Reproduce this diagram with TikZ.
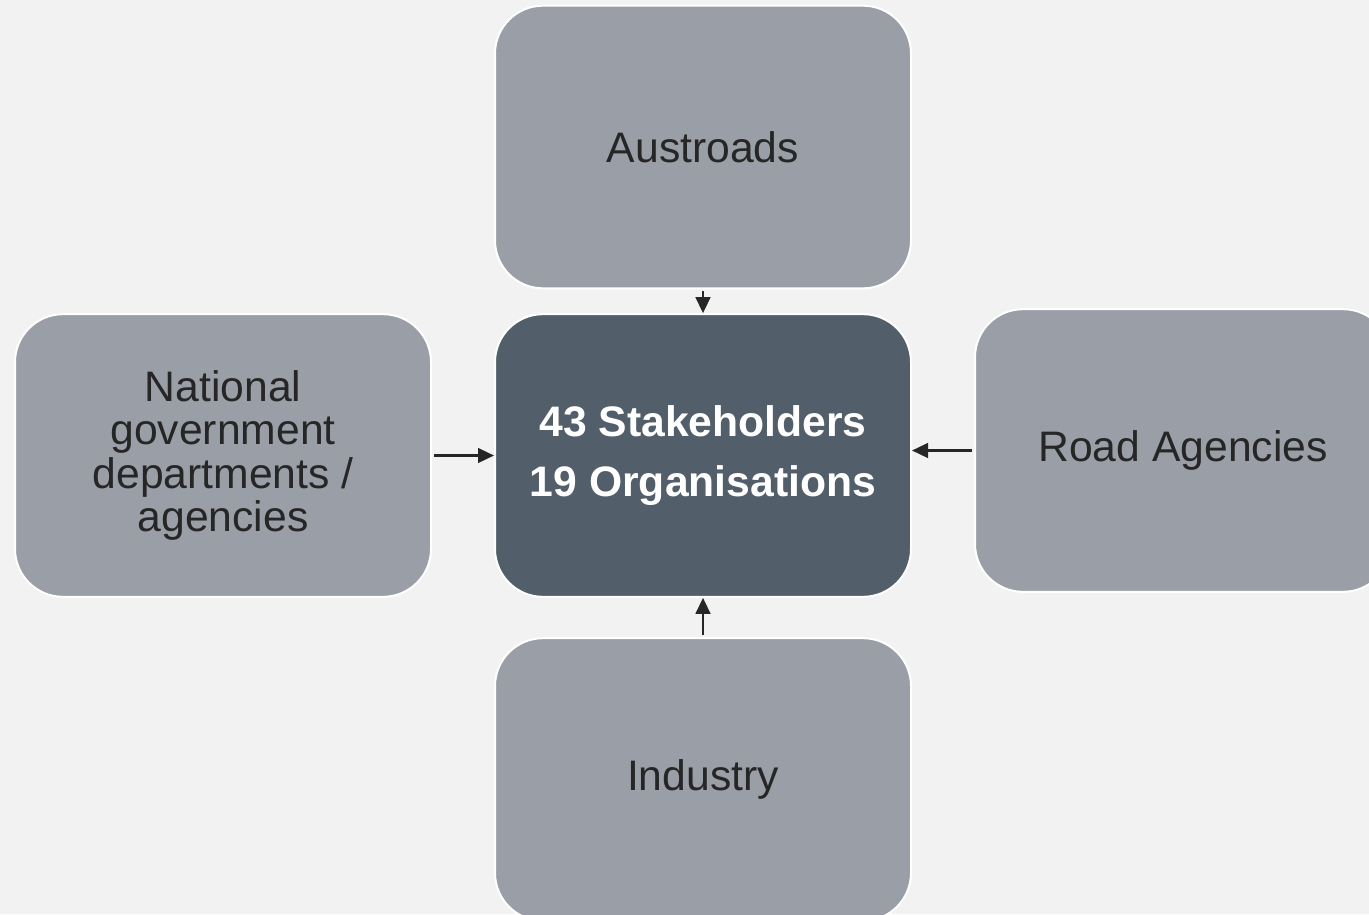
\documentclass[tikz,border=0pt]{standalone}
\usepackage{fontspec}
\setmainfont{Liberation Sans}
\usepackage{xcolor}
\usetikzlibrary{arrows.meta, positioning}

\definecolor{pagebg}{HTML}{F2F2F2}
\definecolor{boxgray}{HTML}{9A9EA7}
\definecolor{hubgray}{HTML}{525E69}
\definecolor{inkdark}{HTML}{262626}

\tikzset{
  group/.style={rectangle, rounded corners=36pt, draw=white, line width=1.5pt,
    fill=boxgray, minimum width=312pt, minimum height=212pt,
    text=inkdark, align=center, font=\fontsize{32}{32.5}\selectfont},
  hub/.style={group, fill=hubgray, text=white,
    font=\fontsize{32}{45}\selectfont\bfseries},
  feed/.style={draw=inkdark, line width=1.8pt, -{Triangle[length=12pt,width=11pt]}}
}

\begin{document}
\begin{tikzpicture}[x=0.75pt, y=-0.75pt]
\fill[pagebg] (0,0) rectangle (1369,914);
\useasboundingbox (0,0) rectangle (1369,914);

\node[hub] (stake) at (703,455.5) {43 Stakeholders\\19 Organisations};
\node[group] (austroads) at (703,147) {Austroads};
\node[group] (natgov) at (223,455.5) {National\\government\\departments /\\agencies};
\node[group] (roads) at (1183,450.5) {Road Agencies};
\node[group] (industry) at (703,779.5) {Industry};

\draw[feed, shorten <=1.5pt] (austroads) -- (stake);
\draw[feed, shorten <=1.5pt] (natgov) -- (stake);
\draw[feed, shorten <=1.5pt] (roads.west) -- (roads.west -| stake.east);
\draw[feed, shorten <=1.5pt] (industry) -- (stake);
\end{tikzpicture}
\end{document}
